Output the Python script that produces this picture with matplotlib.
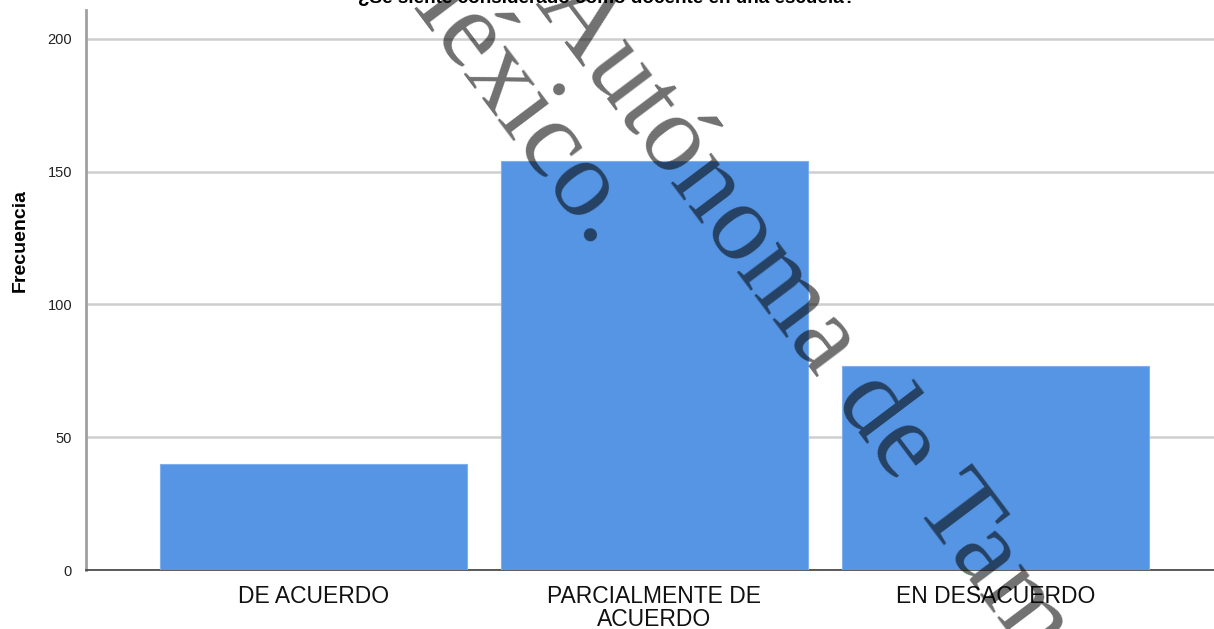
import matplotlib
matplotlib.use('Agg')
import matplotlib.pyplot as plt

categorias = ['DE ACUERDO', 'PARCIALMENTE DE\nACUERDO', 'EN DESACUERDO']
frecuencias = [40, 154, 77]
yticks = [0, 50, 100, 150, 200]

titulo = '¿Se siente considerado como docente en una escuela?'

plt.rcParams['font.family'] = ['Liberation Sans', 'DejaVu Sans']

fig = plt.figure(figsize=(12.14, 6.29), dpi=100)
ax = fig.add_axes([86 / 1214, 1 - 570 / 629, 1128 / 1214, 560 / 629])

x = list(range(len(categorias)))
ax.bar(x, frecuencias, width=0.9, color='#5595e3', edgecolor='#7fb0ec',
       linewidth=0.8, zorder=3)

ax.set_xlim(-0.667, 2.641)
ax.set_ylim(0, 210.9)
ax.set_yticks(yticks)
ax.set_xticks(x)
ax.set_xticklabels(categorias, fontsize=16.5, linespacing=1.0)
ax.tick_params(axis='x', length=0, pad=11, colors='#111111')
ax.tick_params(axis='y', length=0, pad=10, labelsize=10.5, colors='#222222')
ax.grid(axis='y', color='#cfcfcf', linewidth=1.8, zorder=0)
ax.set_axisbelow(True)

for s in ['top', 'right']:
    ax.spines[s].set_visible(False)
ax.spines['left'].set_color('#a0a0a0')
ax.spines['left'].set_linewidth(2)
ax.spines['bottom'].set_color('#404040')
ax.spines['bottom'].set_linewidth(1.2)

fig.text(20 / 1214, 1 - 240 / 629, 'Frecuencia', rotation=90, ha='center',
         va='center', fontsize=14, fontweight='bold')

# titulo cortado por el borde superior
fig.text(0.5, 1 - 3 / 629, titulo, ha='center', va='baseline',
         fontsize=13.6, fontweight='bold')

# marca de agua
wm = dict(family='Liberation Serif', fontsize=80, color='black', alpha=0.56,
          rotation=-53, rotation_mode='anchor', va='baseline')
fig.text(534 / 1214, 1 - 3 / 629, 'Autónoma de Tamaulipas', ha='left', **wm)
fig.text(594 / 1214, 1 - 251 / 629, 'México.', ha='right', **wm)

fig.savefig('out.png', dpi=100)
